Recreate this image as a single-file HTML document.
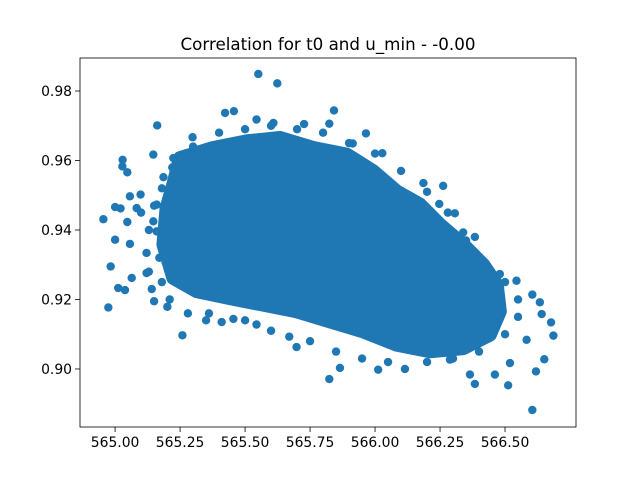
<!DOCTYPE html>
<html><head><meta charset="utf-8"><style>
html,body{margin:0;padding:0;background:#fff;}
svg text{font-family:"DejaVu Sans","Liberation Sans",sans-serif;fill:#000;}
</style></head><body>
<svg id="chart" width="640" height="480" viewBox="0 0 640 480" xmlns="http://www.w3.org/2000/svg">
<rect width="640" height="480" fill="#fff"/>
<text x="328" y="50" font-size="16.7" text-anchor="middle">Correlation for t0 and u_min - -0.00</text>
<g id="plot"></g>
<g id="axes"></g>
</svg>
<script>
// Dense core region outline (t0, u_min)
const coreX = [565.250,565.378,565.506,565.634,565.762,565.891,565.993,566.083,566.173,566.250,566.339,566.416,566.468,566.480,566.442,566.339,566.211,566.083,565.955,565.827,565.698,565.570,565.442,565.314,565.224,565.186,565.198,565.224];
const coreY = [0.9607,0.9636,0.9655,0.9665,0.9636,0.9617,0.9569,0.9511,0.9473,0.9415,0.9358,0.9300,0.9243,0.9166,0.9099,0.9060,0.9051,0.9070,0.9108,0.9137,0.9166,0.9185,0.9204,0.9224,0.9262,0.9358,0.9463,0.9531];
// Individual scattered points
const ptX = [565.551,565.624,565.842,565.423,565.457,565.544,565.162,565.298,565.147,565.029,565.028,565.047,564.955,565.000,565.021,565.057,565.098,565.047,565.000,565.057,564.983,565.064,565.012,565.038,564.974,565.201,565.259,565.410,565.698,565.824,565.865,566.012,566.115,566.384,566.512,566.605,566.619,566.651,566.686,566.677,566.641,566.634,566.605,566.544,566.480,566.307,566.262,566.384,566.339,566.028,565.965,565.824,565.727,565.609,565.914,566.186,566.247,566.461,566.365,566.288,566.519,566.583,565.670,565.544,565.455,565.361,565.150,565.141,565.121,565.121,565.160,565.147,565.083,565.160,565.224,565.320,565.384,565.186,
 565.10,565.13,565.17,565.13,565.18,565.21,565.28,565.35,565.50,565.60,565.75,565.85,565.95,566.05,566.20,566.30,566.40,566.50,566.55,566.55,566.50,566.42,566.35,566.28,566.20,566.10,566.00,565.90,565.80,565.70,565.60,565.50,565.40,565.30,565.22,565.18,565.15];
const ptY = [0.9849,0.9822,0.9744,0.9737,0.9742,0.9718,0.9701,0.9667,0.9617,0.9602,0.9583,0.9566,0.9431,0.9466,0.9462,0.9497,0.9502,0.9423,0.9372,0.9360,0.9295,0.9262,0.9233,0.9227,0.9177,0.9179,0.9097,0.9135,0.9063,0.8971,0.9003,0.8998,0.9000,0.8957,0.8953,0.8882,0.8993,0.9028,0.9096,0.9134,0.9158,0.9192,0.9214,0.9254,0.9273,0.9448,0.9527,0.9380,0.9393,0.9621,0.9678,0.9706,0.9705,0.9708,0.9649,0.9535,0.9475,0.8984,0.8984,0.9027,0.9017,0.9084,0.9093,0.9128,0.9144,0.9160,0.9195,0.9230,0.9276,0.9334,0.9396,0.9425,0.9463,0.9473,0.9607,0.9610,0.9644,0.9552,
 0.945,0.940,0.932,0.928,0.925,0.920,0.916,0.914,0.914,0.911,0.908,0.905,0.903,0.902,0.902,0.903,0.905,0.910,0.915,0.920,0.925,0.930,0.937,0.945,0.951,0.957,0.962,0.965,0.968,0.969,0.970,0.969,0.968,0.964,0.958,0.952,0.947];
const xTicks = [565.00,565.25,565.50,565.75,566.00,566.25,566.50];
const xTickLabels = ["565.00","565.25","565.50","565.75","566.00","566.25","566.50"];
const yTicks = [0.90,0.92,0.94,0.96,0.98];
const yTickLabels = ["0.90","0.92","0.94","0.96","0.98"];

const L=80,R=576,T=58,B=427;
const xMin=564.865,xMax=566.773,yMin=0.8833,yMax=0.9895;
const sx=v=>L+(v-xMin)/(xMax-xMin)*(R-L);
const sy=v=>B-(v-yMin)/(yMax-yMin)*(B-T);
const NS="http://www.w3.org/2000/svg";
const plot=document.getElementById('plot'), axes=document.getElementById('axes');
const C="#1f77b4";
const poly=document.createElementNS(NS,'polygon');
poly.setAttribute('points',coreX.map((x,i)=>sx(x)+','+sy(coreY[i])).join(' '));
poly.setAttribute('fill',C);
poly.setAttribute('stroke',C);
poly.setAttribute('stroke-width','14');
poly.setAttribute('stroke-linejoin','round');


plot.appendChild(poly);
ptX.forEach((x,i)=>{
  const c=document.createElementNS(NS,'circle');
  c.setAttribute('cx',sx(x));c.setAttribute('cy',sy(ptY[i]));c.setAttribute('r',4.2);c.setAttribute('fill',C);
  
  
  plot.appendChild(c);
});
const frame=document.createElementNS(NS,'rect');
frame.setAttribute('x',L);frame.setAttribute('y',T);frame.setAttribute('width',R-L);frame.setAttribute('height',B-T);
frame.setAttribute('fill','none');frame.setAttribute('stroke','#000');frame.setAttribute('stroke-width','0.8');


axes.appendChild(frame);
xTicks.forEach((v,i)=>{
  const x=sx(v);
  const l=document.createElementNS(NS,'line');
  l.setAttribute('x1',x);l.setAttribute('x2',x);l.setAttribute('y1',B);l.setAttribute('y2',B+5);l.setAttribute('stroke','#000');l.setAttribute('stroke-width','0.8');
  
  
  axes.appendChild(l);
  const t=document.createElementNS(NS,'text');
  t.setAttribute('x',x);t.setAttribute('y',B+20);t.setAttribute('font-size','13.9');t.setAttribute('text-anchor','middle');
  t.textContent=xTickLabels[i];
  
  
  axes.appendChild(t);
});
yTicks.forEach((v,i)=>{
  const y=sy(v);
  const l=document.createElementNS(NS,'line');
  l.setAttribute('x1',L-5);l.setAttribute('x2',L);l.setAttribute('y1',y);l.setAttribute('y2',y);l.setAttribute('stroke','#000');l.setAttribute('stroke-width','0.8');
  
  
  axes.appendChild(l);
  const t=document.createElementNS(NS,'text');
  t.setAttribute('x',L-8);t.setAttribute('y',y+5);t.setAttribute('font-size','13.9');t.setAttribute('text-anchor','end');
  t.textContent=yTickLabels[i];
  
  
  axes.appendChild(t);
});
</script>
</body></html>
